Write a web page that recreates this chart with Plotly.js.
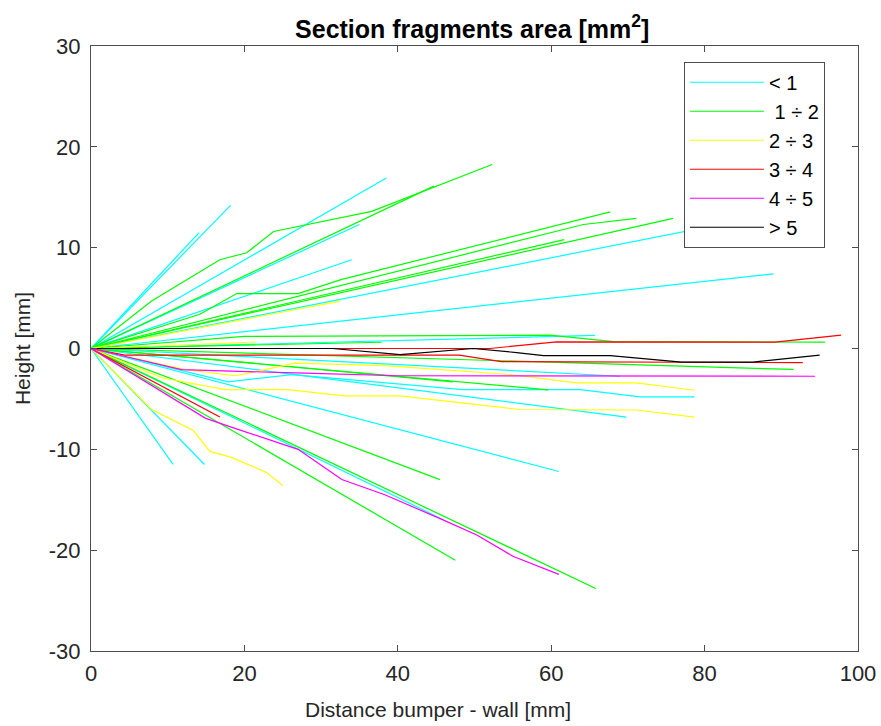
<!DOCTYPE html>
<html>
<head>
<meta charset="utf-8">
<script src="https://cdn.plot.ly/plotly-3.0.1.min.js"></script>
<style>html,body{margin:0;padding:0;background:#fff;}#chart{width:881px;height:726px;}</style>
</head>
<body>
<div id="chart"></div>
<script>
// Legend categories (fragment area classes)
const categories = ["&lt; 1", " 1 ÷ 2", "2 ÷ 3", "3 ÷ 4", "4 ÷ 5", "&gt; 5"];
const colors = ["#00ffff", "#00ff00", "#ffff00", "#ff0000", "#ff00ff", "#000000"];

// Each category: list of polylines (x: distance bumper-wall [mm], y: height [mm])
const cyanX = [[0,18.2],[0,14.1],[0,38.5],[0,35],[0,34.0],[0,90],[0,89.0],[0,65.7],[0,69],
  [0,17.9,26.2,48.5,63.8,71.6,78.7],[0,69.8],[0,61.0],[0,46],[0,14.8],[0,10.7]];
const cyanY = [[0,14.2],[0,11.5],[0,16.9],[0,12.3],[0,8.8],[0,13.5],[0,7.4],[0,1.3],[0,-2.75],
  [0,-3.3,-2.6,-4.07,-4.07,-4.8,-4.8],[0,-6.8],[0,-12.2],[0,-17],[0,-11.5],[0,-11.5]];

const greenX = [[0,7.9,16.8,20.3,23.8,36.6,52.3],[0,44.7],[0,14.2,19,27,32.7,67.7],[0,64.2,71.1],
  [0,61.7],[0,75.9],[0,20,59.8,68.1,95.7],[0,37.9],[0,91.6],[0,59.6],[0,47.2],[0,45.5],[0,65.8],[0,47.5]];
const greenY = [[0,4.7,8.8,9.5,11.6,13.6,18.25],[0,16.1],[0,3.4,5.45,5.45,6.85,13.55],[0,12.3,12.9],
  [0,10.8],[0,12.9],[0,1.2,1.32,0.68,0.63],[0,0.62],[0,-2.08],[0,-4.1],[0,-3.3],[0,-13.0],[0,-23.8],[0,-21.0]];

const yellowX = [[0,32.5],[0,21.6],[0,12.3,18.8,21.8,26.6,38.3,54.6,63.3,71.1,78.7],
  [0,9.2,17.5,25.7,33,40.3,55.9,71.1,78.7],[0,7.9,13.3,15.5,18.3,22.9,25.0]];
const yellowY = [[0,4.7],[0,0.65],[0,-2.1,-2.7,-2.25,-1.45,-1.7,-2.58,-3.4,-3.4,-4.14],
  [0,-2.9,-4.07,-4.07,-4.7,-4.7,-6.05,-6.1,-6.8],[0,-6.05,-8.1,-10.2,-10.8,-12.3,-13.6]];

const redX = [[0,52,60.7,89.2,97.8],[0,4.4,48,53.5,92.8],[0,16.8]];
const redY = [[0,0,0.66,0.63,1.32],[0,-0.65,-0.65,-1.3,-1.4],[0,-6.8]];

const magentaX = [[0,11.8,27.9,40,94.4],[0,14.9,17.9,27,32.7,38.3,45.9,50.3,55,61]];
const magentaY = [[0,-2.1,-2.45,-2.7,-2.75],[0,-6.9,-7.7,-10,-13,-14.5,-17,-18.5,-20.6,-22.4]];

const blackX = [[0,31.5,40.3,49.8,55.5,59,67.7,77,86.3,95]];
const blackY = [[0,0,-0.6,0,-0.4,-0.7,-0.7,-1.35,-1.35,-0.66]];

const xTicks = [0,20,40,60,80,100];
const xTickText = ['0','20','40','60','80','100'];
const yTicks = [-30,-20,-10,0,10,20,30];
const yTickText = ['-30','-20','-10','0','10','20','30'];

const groupsX = [cyanX, greenX, yellowX, redX, magentaX, blackX];
const groupsY = [cyanY, greenY, yellowY, redY, magentaY, blackY];

const traces = [];
groupsX.forEach((gx, gi) => {
  gx.forEach((xs, li) => {
    traces.push({
      type: 'scatter', mode: 'lines',
      x: xs, y: groupsY[gi][li],
      name: categories[gi], legendgroup: 'g' + gi,
      showlegend: li === 0,
      line: {color: colors[gi], width: 1.2},
      hoverinfo: 'skip'
    });
  });
});

const FONT = 'Liberation Sans, Arial, sans-serif';
const axisCommon = {
  showgrid: false, zeroline: false, showline: true, mirror: 'ticks',
  linecolor: '#4d4d4d', linewidth: 1, ticks: 'inside', ticklen: 6,
  tickcolor: '#4d4d4d', tickwidth: 1,
  tickfont: {family: FONT, size: 22, color: '#262626'}
};

const layout = {
  width: 881, height: 726,
  margin: {l: 91, r: 23, t: 46, b: 75},
  paper_bgcolor: '#fff', plot_bgcolor: '#fff',
  font: {family: FONT, color: '#262626'},
  title: {text: '<b>Section fragments area [mm<sup>2</sup>]</b>', x: 0.497, xref: 'paper', y: 0.96, yref: 'container', yanchor: 'middle',
    font: {size: 25, color: '#000'}},
  xaxis: Object.assign({}, axisCommon, {range: [0, 100], tickvals: xTicks, ticktext: xTickText,
    ticklabelstandoff: 3}),
  yaxis: Object.assign({}, axisCommon, {range: [-30, 30], tickvals: yTicks, ticktext: yTickText,
    ticklabelstandoff: 5,
    title: {text: 'Height [mm]', font: {size: 21, color: '#262626'}, standoff: 12}}),
  annotations: [{
    text: 'Distance bumper - wall [mm]', xref: 'paper', yref: 'paper',
    x: 0.453, y: -0.0975, xanchor: 'center', yanchor: 'middle', showarrow: false,
    font: {family: FONT, size: 21, color: '#262626'}
  }],
  legend: {x: 0.773, y: 0.974, xanchor: 'left', yanchor: 'top', bgcolor: '#fff',
    bordercolor: '#4d4d4d', borderwidth: 1, traceorder: 'grouped', tracegroupgap: 0,
    itemwidth: 74,
    font: {size: 20, color: '#000', family: FONT}},
  showlegend: true
};

Plotly.newPlot('chart', traces, layout, {displayModeBar: false, staticPlot: true});
</script>
</body>
</html>
